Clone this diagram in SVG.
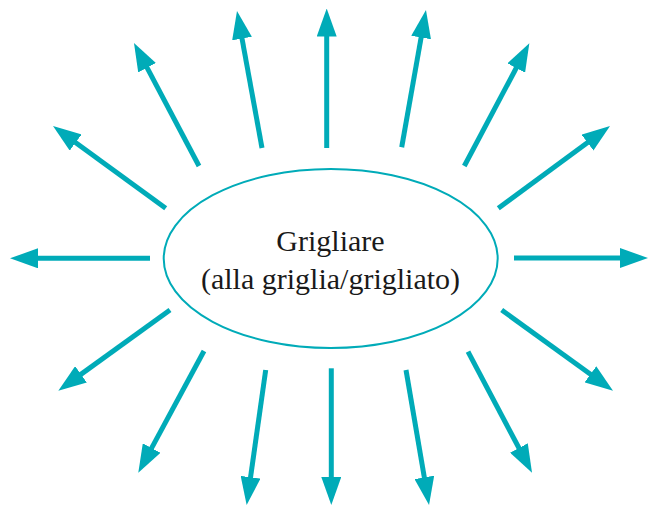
<svg xmlns="http://www.w3.org/2000/svg" width="649" height="506" viewBox="0 0 649 506">
  <style>
    .ray { stroke: #00ABB8; stroke-width: 5; fill: none; marker-end: url(#head); }
    .node { fill: #FFFFFF; stroke: #00ABB8; stroke-width: 2; }
    .label { fill: #1A1A1A; text-anchor: middle; }
  </style>
  <defs>
    <marker id="head" viewBox="0 0 28 20" markerWidth="28" markerHeight="20" refX="4" refY="10" markerUnits="userSpaceOnUse" orient="auto">
      <path d="M0,0 L28,10 L0,20 Z" fill="#00ABB8"/>
    </marker>
  </defs>
  <rect width="649" height="506" fill="#FFFFFF"/>
  <g id="connectors">
    <line class="ray" x1="326.7" y1="148" x2="326.7" y2="32.5"/>
    <line class="ray" x1="401.7" y1="147.3" x2="421.8" y2="33.6"/>
    <line class="ray" x1="464.3" y1="166" x2="518.1" y2="64.5"/>
    <line class="ray" x1="498.3" y1="208.3" x2="590.7" y2="140.2"/>
    <line class="ray" x1="514" y1="258" x2="624" y2="258"/>
    <line class="ray" x1="501.7" y1="310" x2="593.6" y2="376.6"/>
    <line class="ray" x1="468" y1="351.7" x2="520.8" y2="451.5"/>
    <line class="ray" x1="406" y1="370" x2="425" y2="481.3"/>
    <line class="ray" x1="331.3" y1="368.3" x2="331.3" y2="481"/>
    <line class="ray" x1="265.7" y1="370" x2="250" y2="481.2"/>
    <line class="ray" x1="204" y1="351" x2="149.7" y2="451.6"/>
    <line class="ray" x1="170" y1="310" x2="77.75" y2="376.65"/>
    <line class="ray" x1="150" y1="258.3" x2="34" y2="258.3"/>
    <line class="ray" x1="165.7" y1="208.3" x2="72.4" y2="140.2"/>
    <line class="ray" x1="199" y1="166" x2="145.2" y2="64.2"/>
    <line class="ray" x1="262" y1="148" x2="241.3" y2="34.6"/>
  </g>
  <g id="grigliare">
    <ellipse class="node" cx="330.7" cy="258.5" rx="167" ry="89.5"/>
    <text class="label" x="330.5" y="250.7" font-family="'Liberation Serif', 'DejaVu Serif', serif" font-size="30">Grigliare</text>
    <text class="label" x="330.5" y="289.3" font-family="'Liberation Serif', 'DejaVu Serif', serif" font-size="30">(alla griglia/grigliato)</text>
  </g>
</svg>
